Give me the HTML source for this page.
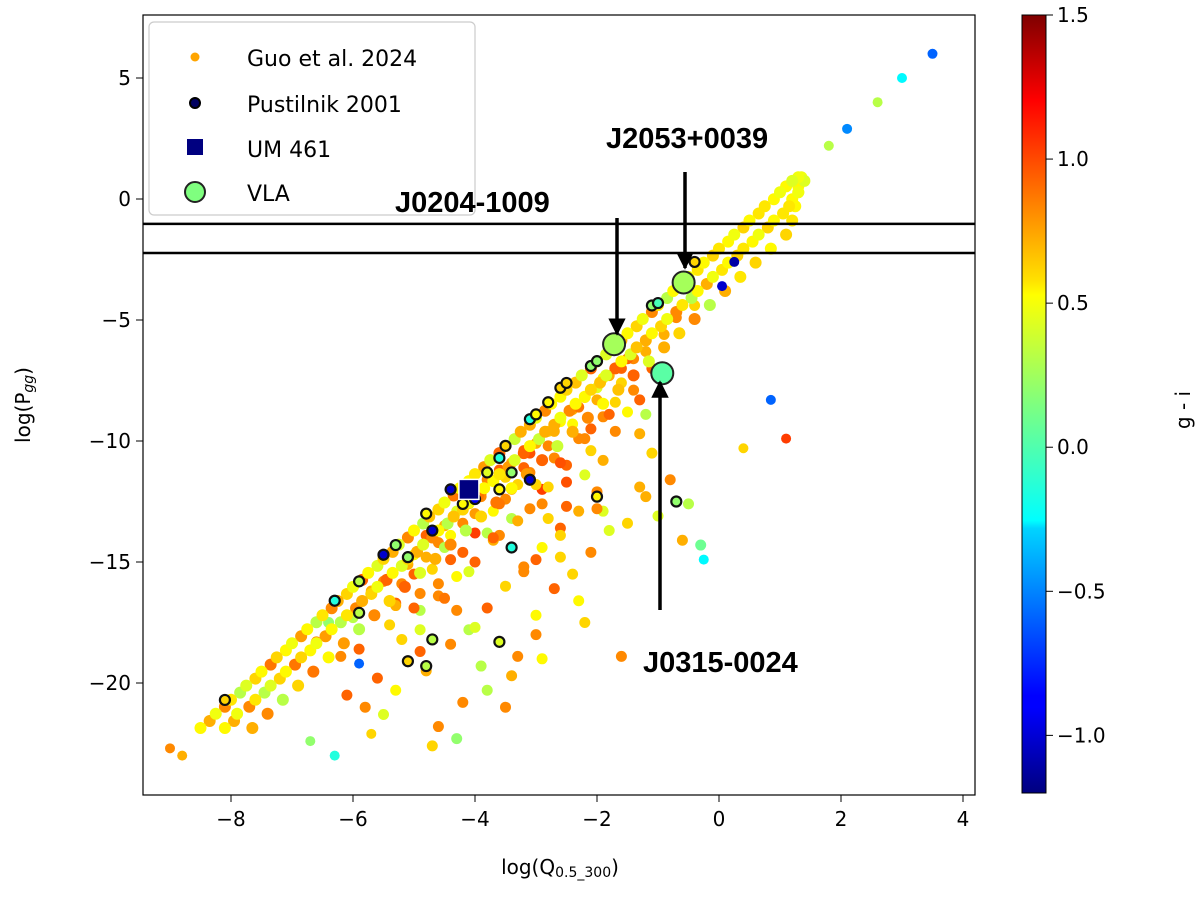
<!DOCTYPE html>
<html><head><meta charset="utf-8"><style>
body{margin:0;background:#fff;}
svg text{font-family:"DejaVu Sans","Liberation Sans",sans-serif;}
</style></head><body>
<svg id="chart" width="1200" height="893" viewBox="0 0 1200 893" xmlns="http://www.w3.org/2000/svg">
<defs>
<linearGradient id="jet" x1="0" y1="1" x2="0" y2="0">
<stop offset="0" stop-color="#00007f"/><stop offset="0.11" stop-color="#0000ff"/><stop offset="0.125" stop-color="#0000ff"/><stop offset="0.34" stop-color="#00d4ff"/><stop offset="0.35" stop-color="#0ff"/><stop offset="0.5" stop-color="#7fff7f"/><stop offset="0.64" stop-color="#ff0"/><stop offset="0.66" stop-color="#ffe000"/><stop offset="0.89" stop-color="#ff0000"/><stop offset="1" stop-color="#7f0000"/>
</linearGradient>
<clipPath id="pc"><rect x="143" y="15" width="832" height="780"/></clipPath>
<marker id="ah" viewBox="0 0 10 10" refX="9" refY="5" markerWidth="5" markerHeight="5" orient="auto"><path d="M0,0 L10,5 L0,10 z" fill="#000"/></marker>
</defs>
<g id="marks" clip-path="url(#pc)"></g>
<rect x="143" y="15" width="832" height="780" fill="none" stroke="#000" stroke-width="1.2"/>
<g id="axes"></g>
<g id="annot"></g>
</svg>
<script>
// data
const xTicks=[-8,-6,-4,-2,0,2,4];
const yTicks=[5,0,-5,-10,-15,-20];
const cTicks=[1.5,1.0,0.5,0.0,-0.5,-1.0];
const hLines=[-1.03,-2.23];
const bandY=[-21.86,-21.27,-20.69,-20.11,-19.53,-18.94,-18.36,-17.78,-17.2,-16.61,-16.03,-15.45,-14.87,-14.28,-13.7,-13.12,-12.54,-11.95,-11.37,-10.79,-10.21,-9.62,-9.04,-8.46,-7.88,-7.29,-6.71,-6.13,-5.55,-4.96,-4.38,-3.8,-3.22,-2.63,-2.05,-1.47,-0.89,-0.3,0.28,0.75];
const bandY2=[-21.57,-20.98,-20.4,-19.82,-19.24,-18.65,-18.07,-17.49,-16.91,-16.32,-15.74,-15.16,-14.58,-13.99,-13.41,-12.83,-12.25,-11.66,-11.08,-10.5,-9.92,-9.33,-8.75,-8.17,-7.59,-7.0,-6.42,-5.84,-5.26,-4.67,-4.09,-3.51,-2.93,-2.34,-1.76,-1.18,-0.6,-0.01,0.52,0.9];
const bandX1=[-8.5,-8.25,-8,-7.75,-7.5,-7.25,-7,-6.75,-6.5,-6.25,-6,-5.75,-5.5,-5.25,-5,-4.75,-4.5,-4.25,-4,-3.75,-3.5,-3.25,-3,-2.75,-2.5,-2.25,-2,-1.75,-1.5,-1.25,-1,-0.75,-0.5,-0.25,0,0.25,0.5,0.75,1,1.2];
const bandX2=[-8.35,-8.1,-7.85,-7.6,-7.35,-7.1,-6.85,-6.6,-6.35,-6.1,-5.85,-5.6,-5.35,-5.1,-4.85,-4.6,-4.35,-4.1,-3.85,-3.6,-3.35,-3.1,-2.85,-2.6,-2.35,-2.1,-1.85,-1.6,-1.35,-1.1,-0.85,-0.6,-0.35,-0.1,0.15,0.4,0.65,0.9,1.1,1.3];
const bandX3=[-8.1,-7.9,-7.6,-7.35,-7.1,-6.85,-6.6,-6.35,-6.1,-5.85,-5.6,-5.35,-5.1,-4.85,-4.6,-4.35,-4.1,-3.85,-3.6,-3.35,-3.1,-2.85,-2.6,-2.35,-2.1,-1.85,-1.6,-1.35,-1.1,-0.85,-0.6,-0.35,-0.1,0.15,0.4,0.65,0.9,1.15,1.3,1.4];
const bandX4=[-7.95,-7.7,-7.45,-7.2,-6.95,-6.7,-6.45,-6.2,-5.95,-5.7,-5.45,-5.2,-4.95,-4.7,-4.45,-4.2,-3.95,-3.7,-3.45,-3.2,-2.95,-2.7,-2.45,-2.2,-1.95,-1.7,-1.45,-1.2,-0.95,-0.7,-0.45,-0.2,0.05,0.3,0.55,0.8,1.05,1.2,1.3,1.35];
const bandX5=[-7.65,-7.4,-7.15,-6.9,-6.65,-6.4,-6.15,-5.9,-5.65,-5.4,-5.15,-4.9,-4.65,-4.4,-4.15,-3.9,-3.65,-3.4,-3.15,-2.9,-2.65,-2.4,-2.15,-1.9,-1.65,-1.4,-1.15,-0.9,-0.65,-0.4,-0.15,0.1,0.35,0.6,0.85,1.1,1.2,1.25,1.3,1.35];
const bandC=[0.5,0.45,0.55,0.4,0.5,0.6,0.45,0.5,0.55,0.7,0.45,0.5,0.6,0.4,0.5,0.65,0.45,0.5,0.55,0.4,0.5,0.7,0.45,0.5,0.6,0.4,0.5,0.65,0.5,0.45,0.55,0.5,0.45,0.5,0.55,0.45,0.5,0.55,0.45,0.4];
const bandC2=[0.7,0.8,0.3,0.6,0.85,0.5,0.75,0.3,0.8,0.6,0.9,0.4,0.7,0.8,0.3,0.6,0.85,0.5,0.75,0.9,0.35,0.7,0.8,0.5,0.65,0.9,0.4,0.7,0.6,0.8,0.3,0.7,0.55,0.6,0.5,0.6,0.55,0.5,0.5,0.45];
const topX=[-9.0,-8.8,1.8,2.1,2.6,3.0,3.5,0.05,0.25,0.85,1.1,0.4,-0.25,-5.9,-6.3,-6.7,-5.7];
const topY=[-22.7,-23.0,2.2,2.9,4.0,5.0,6.0,-3.6,-2.6,-8.3,-9.9,-10.3,-14.9,-19.2,-23.0,-22.4,-22.1];
const topC=[0.8,0.7,0.3,-0.5,0.3,-0.2,-0.6,-1.0,-1.1,-0.6,1.0,0.6,-0.2,-0.6,-0.1,0.2,0.6];
const scX=[-6.6,-6.4,-6.2,-6.0,-5.9,-5.7,-5.5,-5.4,-5.3,-5.1,-5.0,-4.9,-4.8,-4.7,-4.6,-4.5,-4.4,-4.3,-4.2,-4.1,-4.0,-3.9,-3.8,-3.7,-3.6,-3.5,-3.4,-3.3,-3.2,-3.1,-3.0,-2.9,-2.8,-2.7,-2.6,-2.5,-2.4,-2.3,-2.2,-2.1,-2.0,-1.9,-1.8,-1.7,-1.6,-1.5,-1.4,-1.3,-1.2,-1.1,-5.6,-5.2,-4.9,-4.6,-4.3,-4.0,-3.7,-3.4,-3.1,-2.8,-2.5,-2.2,-1.9,-5.8,-5.3,-4.8,-4.4,-4.1,-3.8,-3.5,-3.2,-2.9,-2.6,-2.3,-2.0,-6.1,-5.5,-4.7,-4.2,-3.9,-3.3,-3.0,-2.7,-2.4,-2.1,-1.8,-1.5,-1.2,-0.8,-0.5,-0.3,-1.0,-1.3,-5.2,-4.5,-3.6,-2.8,-2.3,-4.9,-4.0,-3.4,-3.0,-2.2,-1.6,-0.6,-3.8,-4.6,-5.0,-2.6,-4.3,-3.2,-1.9,-3.5,-2.9];
const scY=[-18.3,-17.5,-18.9,-17.3,-18.6,-16.2,-15.8,-17.6,-16.7,-15.1,-14.7,-16.3,-13.9,-15.3,-14.2,-13.5,-14.9,-12.9,-13.4,-12.6,-13.8,-12.2,-11.6,-12.9,-11.2,-12.4,-10.9,-11.8,-10.4,-11.3,-10.1,-12.0,-9.6,-10.7,-9.2,-11.0,-8.7,-9.9,-8.2,-9.5,-7.8,-9.0,-7.3,-8.4,-7.0,-8.8,-6.6,-9.7,-8.9,-10.5,-19.8,-18.2,-17.0,-16.4,-15.6,-15.0,-14.1,-13.2,-12.8,-11.9,-12.7,-11.4,-10.8,-21.0,-20.3,-19.5,-18.4,-17.8,-16.9,-16.0,-15.2,-14.4,-13.6,-12.9,-12.1,-20.5,-21.3,-22.6,-20.8,-19.3,-18.9,-17.2,-16.1,-15.5,-14.6,-13.7,-13.4,-12.3,-11.6,-12.6,-14.3,-13.1,-11.9,-15.9,-14.4,-13.9,-13.2,-16.6,-18.7,-17.7,-19.7,-18.0,-17.5,-18.9,-14.1,-20.3,-21.8,-16.9,-14.8,-22.3,-15.4,-12.9,-21.0,-19.0];
const scC=[0.8,0.2,0.8,0.3,0.9,0.7,0.8,0.6,0.9,0.7,0.5,0.8,0.9,0.6,0.8,0.7,0.9,0.4,0.8,0.6,1.0,0.7,0.8,0.5,0.9,0.8,0.7,0.6,0.9,0.8,0.7,1.0,0.6,0.8,0.5,0.9,0.7,0.8,0.6,0.9,0.4,0.8,0.7,0.6,0.9,0.5,0.8,0.7,0.3,0.6,0.9,0.6,0.3,0.8,0.5,0.9,0.7,0.3,0.8,0.6,0.9,0.4,0.7,0.8,0.5,0.7,0.8,0.3,0.9,0.6,0.8,0.5,0.9,0.7,0.8,0.9,0.4,0.6,0.8,0.3,0.8,0.5,0.9,0.6,0.8,0.4,0.6,0.7,0.8,0.3,0.1,0.4,0.7,0.8,0.3,0.8,0.6,0.5,0.9,0.4,0.7,0.8,0.6,0.8,0.7,0.3,0.8,0.9,0.6,0.2,0.8,0.4,0.8,0.5];
const sc2X=[-5.0,-4.8,-4.6,-4.4,-4.2,-4.0,-3.8,-3.6,-3.4,-3.2,-3.0,-2.8,-2.6,-2.4,-2.2,-2.0,-1.8,-1.6,-1.4,-1.2,-4.5,-4.1,-3.7,-3.3,-2.9,-2.5,-2.1,-1.7,-1.3,-0.9,-3.9,-3.5,-3.1,-2.7,-2.3,-1.9,-1.5,-5.3,-4.9,-4.3,-3.0,-2.6,-2.0,-1.1,-0.7,-0.4];
const sc2Y=[-15.5,-14.8,-15.9,-13.9,-14.6,-13.0,-13.8,-12.6,-12.0,-11.1,-11.8,-10.2,-10.9,-9.3,-9.9,-8.3,-8.9,-7.6,-7.9,-6.3,-16.5,-15.4,-14.0,-13.3,-12.6,-11.7,-10.4,-9.6,-8.3,-5.6,-12.3,-11.5,-10.5,-9.6,-8.6,-7.4,-6.6,-16.8,-17.8,-17.0,-14.9,-13.9,-12.8,-7.0,-4.9,-4.4];
const sc2C=[0.9,0.7,0.8,0.5,0.9,0.75,0.3,0.85,0.7,0.9,0.6,0.8,0.95,0.5,0.8,0.7,0.9,0.6,0.8,0.7,0.85,0.4,0.9,0.7,0.8,0.95,0.6,0.8,0.9,0.7,0.8,0.6,0.95,0.7,0.85,0.5,0.9,0.7,0.4,0.8,0.9,0.6,0.8,0.9,0.8,0.6];
const puX=[-8.1,-6.3,-5.9,-5.9,-5.5,-5.3,-5.1,-4.8,-4.7,-4.7,-4.4,-4.2,-4.0,-3.8,-3.6,-3.6,-3.5,-3.4,-3.1,-3.1,-3.0,-2.8,-2.6,-2.5,-2.1,-2.0,-1.1,-1.0,-0.7,-0.4,-0.6,-5.1,-4.8,-3.6,-3.4,-2.0];
const puY=[-20.7,-16.6,-15.8,-17.1,-14.7,-14.3,-14.8,-13.0,-13.7,-18.2,-12.0,-12.6,-12.4,-11.3,-10.7,-12.0,-10.2,-14.4,-9.1,-11.6,-8.9,-8.4,-7.8,-7.6,-6.9,-6.7,-4.4,-4.3,-12.5,-2.6,-3.4,-19.1,-19.3,-18.3,-11.3,-12.3];
const puC=[0.6,-0.1,0.3,0.3,-1.0,0.2,0.2,0.5,-1.0,0.3,-1.0,0.5,-0.9,0.4,-0.1,0.5,0.6,-0.1,-0.1,-1.0,0.5,0.5,0.6,0.6,0.2,0.2,0.2,0.0,0.2,0.6,0.5,0.6,0.3,0.4,0.2,0.5];
const vlaX=[-1.72,-0.58,-0.93];
const vlaY=[-6.0,-3.45,-7.2];
const vlaC=[0.25,0.25,0.05];
const umX=[-4.1], umY=[-12.0];
const annText=["J2053+0039","J0204-1009","J0315-0024"];

const SVGNS="http://www.w3.org/2000/svg";
const X=v=>719+61*v, Y=v=>199-24.2*v, C=v=>793-(v+1.2)/2.7*778;
function jet(v){let t=(v+1.2)/2.7;t=Math.max(0,Math.min(1,t));
 const r=Math.max(0,Math.min(1,1.5-Math.abs(4*t-3))),g=Math.max(0,Math.min(1,1.5-Math.abs(4*t-2))),b=Math.max(0,Math.min(1,1.5-Math.abs(4*t-1)));
 return `rgb(${Math.round(r*255)},${Math.round(g*255)},${Math.round(b*255)})`;}
function mk(tag,attrs,parent){const e=document.createElementNS(SVGNS,tag);for(const k in attrs)e.setAttribute(k,attrs[k]);parent.appendChild(e);return e;}
const marks=document.getElementById('marks'),axes=document.getElementById('axes'),annot=document.getElementById('annot');
function dot(x,y,c,r,stroke,sw){const e=mk('circle',{cx:X(x),cy:Y(y),r:r,fill:jet(c)},marks);if(stroke){e.setAttribute('stroke',stroke);e.setAttribute('stroke-width',sw);}return e;}
scX.forEach((x,i)=>{const e=dot(x,scY[i],scC[i],5.5);

});
sc2X.forEach((x,i)=>{const e=dot(x,sc2Y[i],sc2C[i],5.5);

});
[[bandX5,bandY,bandC2],[bandX4,bandY2,bandC2],[bandX3,bandY,bandC],[bandX2,bandY2,bandC2],[bandX1,bandY,bandC]].forEach(([xs,ys,cs])=>xs.forEach((x,i)=>{const e=dot(x,ys[i],cs[i],6);

}));
topX.forEach((x,i)=>{const e=dot(x,topY[i],topC[i],5);

});
puX.forEach((x,i)=>{const e=dot(x,puY[i],puC[i],5,'#111',2.2);

});
umX.forEach((x,i)=>{const e=mk('rect',{x:X(x)-10,y:Y(umY[i])-10,width:20,height:20,fill:'#000080',stroke:'#fff','stroke-width':1.5},marks);

});
vlaX.forEach((x,i)=>{const e=dot(x,vlaY[i],vlaC[i],11,'#222',2);

});
hLines.forEach(v=>{const e=mk('line',{x1:143,x2:975,y1:Y(v),y2:Y(v),stroke:'#000','stroke-width':2.5},axes);

});
xTicks.forEach(v=>{mk('line',{x1:X(v),x2:X(v),y1:795,y2:802,stroke:'#000'},axes);
const t=mk('text',{x:X(v),y:826,'font-size':20,'text-anchor':'middle'},axes);t.textContent=(v<0?'\u2212':'')+Math.abs(v);

});
yTicks.forEach(v=>{mk('line',{x1:136,x2:143,y1:Y(v),y2:Y(v),stroke:'#000'},axes);
const t=mk('text',{x:131,y:Y(v)+7,'font-size':20,'text-anchor':'end'},axes);t.textContent=(v<0?'\u2212':'')+Math.abs(v);

});
// colorbar
const cb=mk('rect',{x:1022,y:15,width:24,height:778,fill:'url(#jet)',stroke:'#000','stroke-width':1},axes);


cTicks.forEach(v=>{mk('line',{x1:1046,x2:1053,y1:C(v),y2:C(v),stroke:'#000'},axes);
const t=mk('text',{x:1057,y:C(v)+7,'font-size':20},axes);t.textContent=(v<0?'\u2212':'')+Math.abs(v).toFixed(1);

});
let t=mk('text',{x:1190,y:410,'font-size':20,'text-anchor':'middle',transform:'rotate(-90 1190 410)'},axes);t.textContent='g - i';


t=mk('text',{x:0,y:0,'font-size':20,'text-anchor':'middle'},axes);
t.innerHTML='log(Q<tspan font-size="14" dy="3">0.5_300</tspan><tspan dy="-3">)</tspan>';t.setAttribute('x',560);t.setAttribute('y',874);


t=mk('text',{x:30,y:405,'font-size':20,'text-anchor':'middle',transform:'rotate(-90 30 405)'},axes);
t.innerHTML='log(P<tspan font-size="14" font-style="italic" dy="3">gg</tspan><tspan dy="-3">)</tspan>';


// legend
const lg=mk('g',{},axes);


mk('rect',{x:149,y:22,width:326,height:193,rx:5,fill:'#fff',stroke:'#ccc','stroke-width':1.2},lg);
mk('circle',{cx:195,cy:57,r:4.5,fill:'#ffa500'},lg);
mk('circle',{cx:195,cy:103,r:5,fill:'#000060',stroke:'#000','stroke-width':2},lg);
mk('rect',{x:187,y:139,width:16,height:16,fill:'#000080'},lg);
mk('circle',{cx:195,cy:192,r:10,fill:'#7fff7f',stroke:'#222','stroke-width':2},lg);
[["Guo et al. 2024",66],["Pustilnik 2001",112],["UM 461",157],["VLA",201]].forEach(([s,y])=>{const e=mk('text',{x:247,y:y,'font-size':22},lg);e.textContent=s;

});
// annotations
const ann=[[annText[0],606,148,685,172,685,268],[annText[1],395,212,617,218,617,334],[annText[2],643,672,660,610,660,382]];
ann.forEach(([s,tx,ty,x1,y1,x2,y2])=>{const e=mk('text',{x:tx,y:ty,'font-size':29,'font-weight':'bold'},annot);e.textContent=s;
e.style.fontFamily='"Liberation Sans",sans-serif';


const l=mk('line',{x1:x1,y1:y1,x2:x2,y2:y2,stroke:'#000','stroke-width':3.5,'marker-end':'url(#ah)'},annot);

});
</script>
</body></html>
